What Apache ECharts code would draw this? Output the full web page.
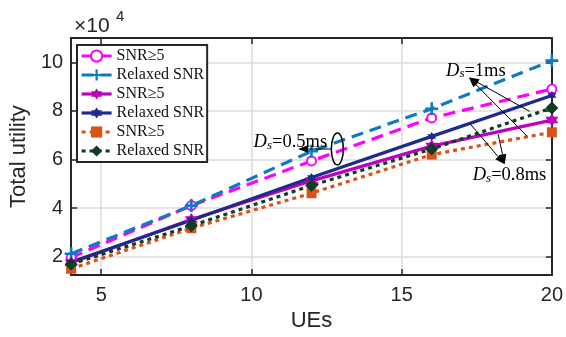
<!DOCTYPE html>
<html>
<head>
<meta charset="utf-8">
<script src="https://cdn.jsdelivr.net/npm/echarts@6/dist/echarts.min.js"></script>
<style>html,body{margin:0;padding:0;background:#fff}#c{width:566px;height:337px}</style>
</head>
<body>
<div id="c"></div>
<script>
// ---- data ----
var ues = [4, 8, 12, 16, 20];
var legendLabels = ['SNR\u22655', 'Relaxed SNR', 'SNR\u22655', 'Relaxed SNR', 'SNR\u22655', 'Relaxed SNR'];
var snr05 = [19600, 41000, 59400, 77100, 89000];
var relaxed05 = [21200, 41000, 63400, 80900, 100700];
var snr1 = [17500, 35300, 51200, 65500, 76200];
var relaxed1 = [17800, 35000, 52600, 69500, 86300];
var snr08 = [15000, 31700, 46100, 62000, 71200];
var relaxed08 = [16900, 32700, 49300, 64300, 81200];
var xTicks = [5, 10, 15, 20];
var yTicks = [20000, 40000, 60000, 80000, 100000];
var yScale = 10000;

// annotation anchor points (data units: UEs, value/1e4)
var ann05 = {text: [12.52, 6.70], arrowFrom: [12.68, 6.43], arrowTo: [11.55, 6.43], ellipse: [12.86, 6.43]};
var ann1 = {text: [17.47, 9.64], tip: [17.24, 9.37], tails: [[19.26, 7.98], [19.18, 6.95]]};
var ann08 = {text: [18.59, 5.34], tip: [18.43, 5.80], tails: [[17.27, 7.48], [18.21, 7.04]]};

var hexagram = 'path://M10,0L12.89,5L18.66,5L15.77,10L18.66,15L12.89,15L10,20L7.11,15L1.34,15L4.23,10L1.34,5L7.11,5Z';
var plus = 'path://M4,0H6V4H10V6H6V10H4V6H0V4H4Z';

var seriesDefs = [
  {data: snr05, color: '#FF00FF', type: [12, 7], symbol: 'emptyCircle', size: 9},
  {data: relaxed05, color: '#0E7AC2', type: [12, 7], symbol: plus, size: 13},
  {data: snr1, color: '#BF00BF', type: 'solid', symbol: hexagram, size: 13},
  {data: relaxed1, color: '#1F2A8C', type: 'solid', symbol: hexagram, size: 9},
  {data: snr08, color: '#D95319', type: [4, 4], symbol: 'rect', size: 10},
  {data: relaxed08, color: '#0F3D24', type: [4, 4], symbol: 'diamond', size: 13}
];

var chart = echarts.init(document.getElementById('c'), null, {renderer: 'canvas'});
var axisColor = '#262626';
var grid = {left: 71, right: 14, top: 38, bottom: 57};

var series = seriesDefs.map(function (d, i) {
  return {
    name: legendLabels[i] + '\u200b'.repeat(i),
    type: 'line',
    data: ues.map(function (u, k) { return [u, d.data[k]]; }),
    symbol: d.symbol,
    symbolSize: d.size,
    showAllSymbol: true,
    lineStyle: {color: d.color, width: 3.2, type: d.type, cap: 'butt'},
    itemStyle: {color: d.color, borderColor: d.color, borderWidth: d.symbol === 'emptyCircle' ? 2.2 : 0},
    emphasis: {disabled: true},
    animation: false,
    z: 3
  };
});

var font = 'Liberation Sans, Arial, sans-serif';
var serif = 'Liberation Serif, Times New Roman, serif';

chart.setOption({
  animation: false,
  backgroundColor: '#fff',
  grid: grid,
  xAxis: [{
    type: 'value', min: 4, max: 20,
    name: 'UEs', nameLocation: 'middle', nameGap: 34,
    nameTextStyle: {fontFamily: font, fontSize: 22, color: axisColor, verticalAlign: 'top'},
    axisLine: {show: true, onZero: false, lineStyle: {color: axisColor, width: 2}},
    axisTick: {show: true, inside: true, length: 6, customValues: xTicks, lineStyle: {color: axisColor, width: 1.5}},
    axisLabel: {customValues: xTicks, fontFamily: font, fontSize: 20, color: axisColor, margin: 10},
    splitLine: {show: true, lineStyle: {color: '#dcdcdc', width: 1.5}}
  }, {
    type: 'value', min: 4, max: 20, position: 'top',
    axisLine: {show: true, onZero: false, lineStyle: {color: axisColor, width: 2}},
    axisTick: {show: true, inside: true, length: 6, customValues: xTicks, lineStyle: {color: axisColor, width: 1.5}},
    axisLabel: {show: false}, splitLine: {show: false}
  }],
  yAxis: [{
    type: 'value', min: 12400, max: 110000,
    name: 'Total utility', nameLocation: 'middle', nameGap: 36,
    nameTextStyle: {fontFamily: font, fontSize: 22, color: axisColor},
    axisLine: {show: true, onZero: false, lineStyle: {color: axisColor, width: 2}},
    axisTick: {show: true, inside: true, length: 6, customValues: yTicks, lineStyle: {color: axisColor, width: 1.5}},
    axisLabel: {customValues: yTicks, fontFamily: font, fontSize: 20, color: axisColor, margin: 8,
      formatter: function (v) { return String(Math.round(v / yScale)); }},
    splitLine: {show: true, lineStyle: {color: '#dcdcdc', width: 1.5}}
  }, {
    type: 'value', min: 12400, max: 110000, position: 'right',
    axisLine: {show: true, onZero: false, lineStyle: {color: axisColor, width: 2}},
    axisTick: {show: true, inside: true, length: 6, customValues: yTicks, lineStyle: {color: axisColor, width: 1.5}},
    axisLabel: {show: false}, splitLine: {show: false}
  }],
  legend: {
    orient: 'vertical', left: 77, top: 45,
    data: series.map(function (s) { return s.name; }),
    formatter: function (n) { return n.replace(/\u200b/g, ''); },
    itemWidth: 30, itemHeight: 14, itemGap: 3,
    padding: [3, 3, 3, 3],
    lineStyle: {width: 3.2},
    backgroundColor: '#fff', borderColor: axisColor, borderWidth: 2, borderRadius: 0,
    textStyle: {fontFamily: serif, fontSize: 16, color: '#111', lineHeight: 16},
    selectedMode: false
  },
  series: series
});

function P(pt) { return chart.convertToPixel({xAxisIndex: 0, yAxisIndex: 0}, [pt[0], pt[1] * yScale]); }
function arrow(from, to) {
  var dx = to[0] - from[0], dy = to[1] - from[1];
  var L = Math.sqrt(dx * dx + dy * dy), ux = dx / L, uy = dy / L;
  var hl = 10, hw = 3.8;
  var bx = to[0] - ux * hl, by = to[1] - uy * hl;
  return [
    {type: 'line', shape: {x1: from[0], y1: from[1], x2: bx, y2: by}, style: {stroke: '#000', lineWidth: 1}, z: 10},
    {type: 'polygon', shape: {points: [to, [bx - uy * hw, by + ux * hw], [bx + uy * hw, by - ux * hw]]}, style: {fill: '#000'}, z: 10}
  ];
}
function dsText(label, pos, align) {
  return {
    type: 'text', x: pos[0], y: pos[1], z: 11,
    style: {
      text: '{d|D}{s|s}{n|=' + label + '}',
      align: align, verticalAlign: 'middle',
      rich: {
        d: {fontFamily: serif, fontStyle: 'italic', fontSize: 18.5, fill: '#000', lineHeight: 19},
        s: {fontFamily: serif, fontStyle: 'italic', fontSize: 13, fill: '#000', verticalAlign: 'bottom', lineHeight: 15},
        n: {fontFamily: serif, fontSize: 18.5, fill: '#000', lineHeight: 19}
      }
    }
  };
}

var g = [];
var e = P(ann05.ellipse);
g.push({type: 'ellipse', shape: {cx: e[0], cy: e[1], rx: 6, ry: 16}, style: {fill: 'none', stroke: '#000', lineWidth: 1.5}, z: 10});
g = g.concat(arrow(P(ann05.arrowFrom), P(ann05.arrowTo)));
g.push(dsText('0.5ms', P(ann05.text), 'right'));
ann1.tails.forEach(function (t) { g = g.concat(arrow(P(t), P(ann1.tip))); });
g.push(dsText('1ms', P(ann1.text), 'center'));
ann08.tails.forEach(function (t) { g = g.concat(arrow(P(t), P(ann08.tip))); });
g.push(dsText('0.8ms', P(ann08.text), 'center'));
g.push({type: 'text', x: grid.left + 3, y: 26, z: 11, style: {text: '\u00d710', font: '21px ' + font, fill: axisColor, verticalAlign: 'middle'}});
g.push({type: 'text', x: grid.left + 45, y: 17, z: 11, style: {text: '4', font: '15px ' + font, fill: axisColor, verticalAlign: 'middle'}});
chart.setOption({graphic: g});
</script>
</body>
</html>
